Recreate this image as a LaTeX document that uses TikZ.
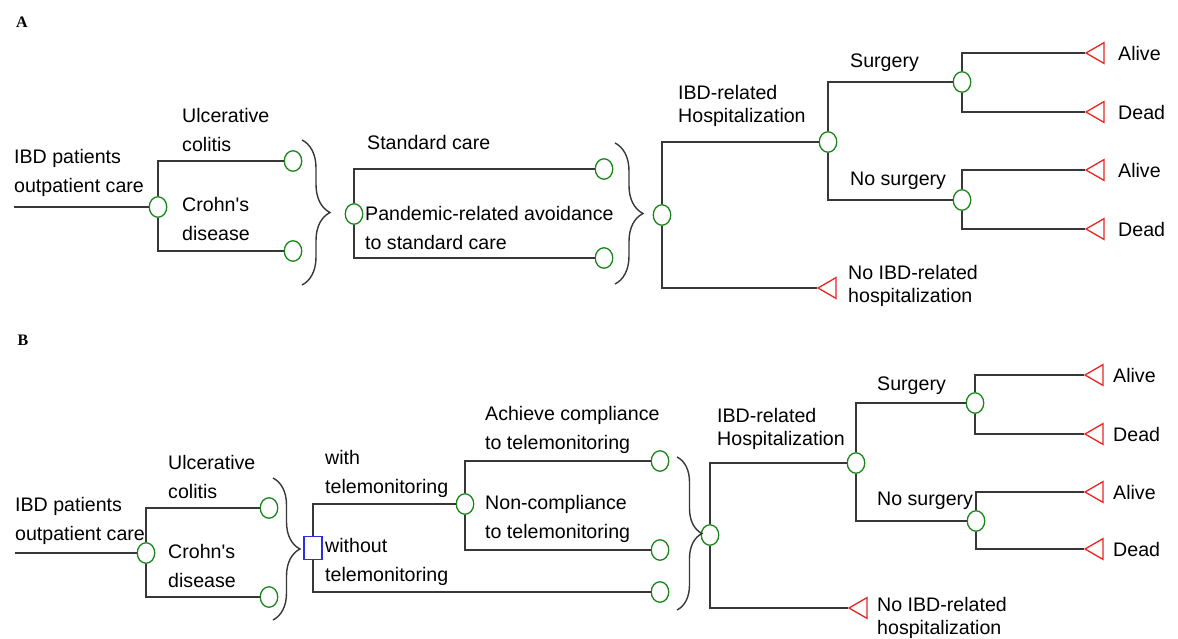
\documentclass[tikz,border=0pt]{standalone}
\usepackage{fontspec}
\setmainfont{Liberation Sans}
\newfontfamily\panelfont{Liberation Serif}
\usetikzlibrary{shapes.geometric}
\usetikzlibrary{decorations.pathreplacing}
\definecolor{chancegreen}{RGB}{25,135,25}
\definecolor{termred}{RGB}{235,35,35}
\definecolor{decblue}{RGB}{45,45,225}
\definecolor{branchgray}{RGB}{55,55,55}
\newcommand*{\lblfont  }{\fontsize{19.6}{29}\selectfont}
\newcommand*{\tightfont}{\fontsize{19.6}{23.5}\selectfont}
\newcommand*{\tipx     }{1098}

\begin{document}
\begin{tikzpicture}[x=1pt,y=-1pt,
    branch/.style={draw=branchgray, line width=1.3pt},
    chance/.style={ellipse, draw=chancegreen, line width=1.3pt, fill=white, minimum width=17.5pt, minimum height=20.5pt, inner sep=0pt},
    decision/.style={rectangle, draw=decblue, line width=1.2pt, fill=white, minimum width=18pt, minimum height=23pt, inner sep=0pt},
    terminal/.style={regular polygon, regular polygon sides=3, shape border rotate=90, draw=termred, line width=1.3pt, minimum size=24pt, inner sep=0pt},
    lbl/.style={anchor=west, align=left, inner sep=0pt, font=\lblfont},
    tlbl/.style={lbl, font=\tightfont},
    bracer/.style={draw=branchgray, line width=1.4pt, decorate, decoration={brace, amplitude=#1}},
    panel/.style={inner sep=0pt, font=\panelfont\bfseries\fontsize{16}{16}\selectfont}]
    \useasboundingbox (0,0) rectangle (1178,639);

    % ---------- panel A ----------
    \node [panel] (panA) at (22,22) {A};
    \coordinate (rootA) at (14,207);
    \node [chance] (ibdA)   at (158,207) {};
    \node [chance] (ucA)    at (293,161) {};
    \node [chance] (cdA)    at (293,251) {};
    \node [chance] (careA)  at (354,214) {};
    \node [chance] (stdA)   at (604,169) {};
    \node [chance] (avoidA) at (604,258) {};
    \node [chance] (hospA)  at (662,215) {};
    \node [chance] (ibdhA)  at (828,142) {};
    \node [terminal] (nohA) at (830,288) {};
    \node [chance] (surgA)  at (962,82)  {};
    \node [chance] (nosurgA) at (962,200) {};
    \node [terminal] (alive1A) at (\tipx,53)  {};
    \node [terminal] (dead1A)  at (\tipx,112) {};
    \node [terminal] (alive2A) at (\tipx,170) {};
    \node [terminal] (dead2A)  at (\tipx,229) {};

    \draw [branch] (rootA) -- (ibdA);
    \draw [branch] (ibdA) |- (ucA);
    \draw [branch] (ibdA) |- (cdA);
    \draw [bracer=28] (302,140) -- (302,285);
    \draw [branch] (careA) |- (stdA);
    \draw [branch] (careA) |- (avoidA);
    \draw [bracer=28] (615,143) -- (615,284);
    \draw [branch] (hospA) |- (ibdhA);
    \draw [branch] (hospA) |- (nohA);
    \draw [branch] (ibdhA) |- (surgA);
    \draw [branch] (ibdhA) |- (nosurgA);
    \draw [branch] (surgA) |- (alive1A);
    \draw [branch] (surgA) |- (dead1A);
    \draw [branch] (nosurgA) |- (alive2A);
    \draw [branch] (nosurgA) |- (dead2A);

    \node [lbl] (tIbdA)   at (14,173)  {IBD patients\\outpatient care};
    \node [lbl] (tUcA)    at (182,130) {Ulcerative\\colitis};
    \node [lbl] (tCdA)    at (182,219) {Crohn\textquotesingle s\\disease};
    \node [lbl] (tStdA)   at (367,142) {Standard care};
    \node [lbl] (tAvoidA) at (365,228) {Pandemic-related avoidance\\to standard care};
    \node [tlbl] (tIbdhA) at (678,106) {IBD-related\\Hospitalization};
    \node [lbl] (tSurgA)  at (850,63)  {Surgery};
    \node [lbl] (tNosA)   at (850,181) {No surgery};
    \node [tlbl] (tNohA)  at (848,286) {No IBD-related\\hospitalization};
    \node [lbl] (tAl1A)   at (1118,53)  {Alive};
    \node [lbl] (tDe1A)   at (1118,112) {Dead};
    \node [lbl] (tAl2A)   at (1118,170) {Alive};
    \node [lbl] (tDe2A)   at (1118,229) {Dead};

    % ---------- panel B ----------
    \node [panel] (panB) at (23,340) {B};
    \coordinate (rootB) at (15,553);
    \node [chance] (ibdB)   at (146,553) {};
    \node [chance] (ucB)    at (269,508) {};
    \node [chance] (cdB)    at (269,597) {};
    \node [decision] (teleB) at (313,548) {};
    \node [chance] (withB)  at (465,504) {};
    \node [chance] (woB)    at (660,592) {};
    \node [chance] (compB)  at (660,461) {};
    \node [chance] (noncB)  at (660,550) {};
    \node [chance] (hospB)  at (710,535) {};
    \node [chance] (ibdhB)  at (856,463) {};
    \node [terminal] (nohB) at (861,608) {};
    \node [chance] (surgB)  at (975,403) {};
    \node [chance] (nosurgB) at (976,521) {};
    \node [terminal] (alive1B) at (\tipx-1,375) {};
    \node [terminal] (dead1B)  at (\tipx-1,434) {};
    \node [terminal] (alive2B) at (\tipx-1,492) {};
    \node [terminal] (dead2B)  at (\tipx-1,549) {};

    \draw [branch] (rootB) -- (ibdB);
    \draw [branch] (ibdB) |- (ucB);
    \draw [branch] (ibdB) |- (cdB);
    \draw [bracer=27] (273,478) -- (273,620);
    \draw [branch] (teleB) |- (withB);
    \draw [branch] (teleB) |- (woB);
    \draw [branch] (withB) |- (compB);
    \draw [branch] (withB) |- (noncB);
    \draw [bracer=25] (677,457) -- (677,610);
    \draw [branch] (hospB) |- (ibdhB);
    \draw [branch] (hospB) |- (nohB);
    \draw [branch] (ibdhB) |- (surgB);
    \draw [branch] (ibdhB) |- (nosurgB);
    \draw [branch] (surgB) |- (alive1B);
    \draw [branch] (surgB) |- (dead1B);
    \draw [branch] (nosurgB) |- (alive2B);
    \draw [branch] (nosurgB) |- (dead2B);

    \node [lbl] (tIbdB)   at (15,521)  {IBD patients\\outpatient care};
    \node [lbl] (tUcB)    at (168,477) {Ulcerative\\colitis};
    \node [lbl] (tCdB)    at (168,566) {Crohn\textquotesingle s\\disease};
    \node [lbl] (tWithB)  at (325,474) {with\\telemonitoring};
    \node [lbl] (tWoB)    at (325,562) {without\\telemonitoring};
    \node [lbl] (tCompB)  at (485,430) {Achieve compliance\\to telemonitoring};
    \node [lbl] (tNoncB)  at (485,519) {Non-compliance\\to telemonitoring};
    \node [tlbl] (tIbdhB) at (717,429) {IBD-related\\Hospitalization};
    \node [lbl] (tSurgB)  at (877,386) {Surgery};
    \node [lbl] (tNosB)   at (877,501) {No surgery};
    \node [tlbl] (tNohB)  at (877,618) {No IBD-related\\hospitalization};
    \node [lbl] (tAl1B)   at (1113,375) {Alive};
    \node [lbl] (tDe1B)   at (1113,434) {Dead};
    \node [lbl] (tAl2B)   at (1113,492) {Alive};
    \node [lbl] (tDe2B)   at (1113,549) {Dead};
\end{tikzpicture}
\end{document}
